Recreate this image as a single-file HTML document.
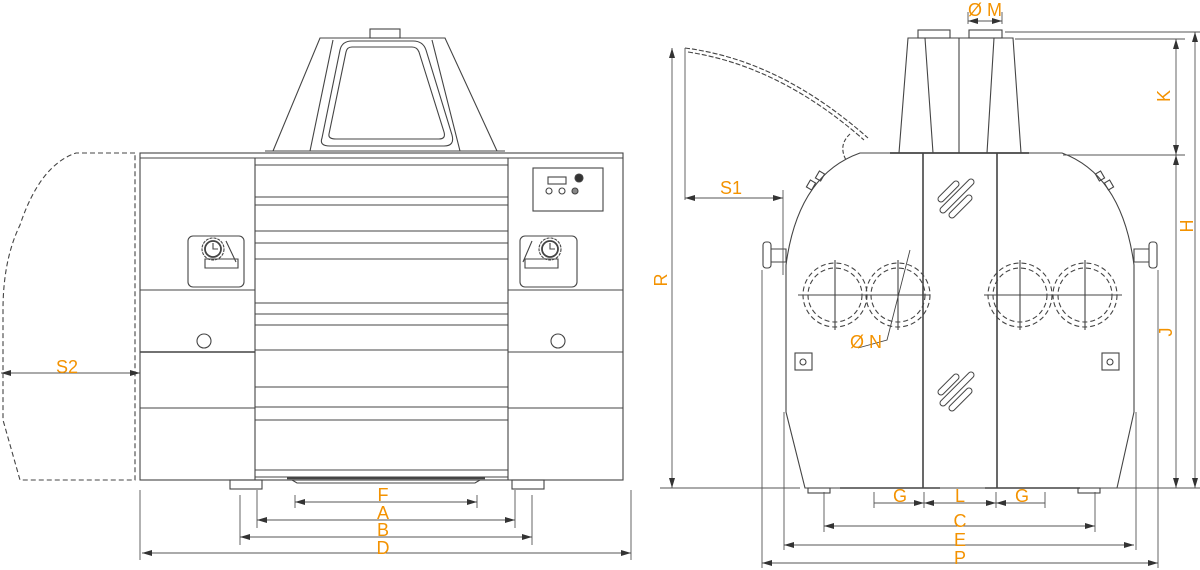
<!DOCTYPE html>
<html><head><meta charset="utf-8"><style>
html,body{margin:0;padding:0;background:#fff}
svg{display:block}
text{font-family:"Liberation Sans",sans-serif;font-size:18px;fill:#F39200}
</style></head><body>
<svg width="1200" height="570" viewBox="0 0 1200 570" xmlns="http://www.w3.org/2000/svg">
<defs>
<marker id="a" viewBox="0 0 10 6" refX="10" refY="3" markerWidth="10" markerHeight="6" orient="auto-start-reverse" markerUnits="userSpaceOnUse"><path d="M0,0L10,3L0,6z" fill="#333"/></marker>
</defs>
<g fill="none" stroke="#444" stroke-width="1.1">
<!-- LEFT VIEW -->
<path d="M273,151 L320,38 L445,38 L497,151"/>
<path d="M310,151 L333,40 M460,151 L432,40"/>
<path d="M322,138 L340,50 Q342,41 352,41 L413,41 Q423,41 426,50 L452,135 Q455,146 444,146 L330,146 Q319,146 322,138 Z"/>
<path d="M329,134 L346,52 Q347,47 352,47 L412,47 Q417,47 419,52 L444,132 Q446,139 439,139 L336,139 Q328,139 329,134 Z"/>
<rect x="370" y="29" width="30" height="9"/>
<path d="M265,151 L505,151"/>
<rect x="140" y="153" width="483" height="327"/>
<path d="M140,158 L623,158"/>
<path d="M255,158 L255,480 M508,158 L508,480"/>
<path d="M140,290 L255,290 M508,290 L623,290 M140,408 L255,408 M508,408 L623,408"/>
<path d="M140,352 L255,352" stroke-width="1.6"/>
<path d="M508,352 L623,352"/>
<path d="M255,165 L508,165 M255,197 L508,197 M255,205 L508,205 M255,231 L508,231 M255,243 L508,243 M255,259 L508,259 M255,303 L508,303 M255,314 L508,314 M255,325 L508,325 M255,350 L508,350 M255,387 L508,387 M255,407 L508,407 M255,420 L508,420 M255,470 L508,470 M255,477 L508,477"/>
<rect x="533" y="168" width="70" height="43"/>
<rect x="548" y="177" width="18" height="7"/>
<circle cx="579" cy="178" r="4" fill="#333"/>
<circle cx="549" cy="191" r="3"/><circle cx="562" cy="191" r="3"/><circle cx="575" cy="191" r="3" fill="#888"/>
<rect x="188" y="236" width="56" height="51" rx="5"/>
<rect x="520" y="236" width="57" height="51" rx="5"/>
<circle cx="213" cy="249" r="11" stroke-dasharray="3 1"/><circle cx="213" cy="249" r="8" stroke-width="1.8"/>
<path d="M213,243 L213,249 L218,249"/>
<path d="M205,259 L238,259 L238,268 L205,268 Z M226,241 L236,262"/>
<circle cx="550" cy="249" r="11" stroke-dasharray="3 1"/><circle cx="550" cy="249" r="8" stroke-width="1.8"/>
<path d="M550,243 L550,249 L555,249"/>
<path d="M525,259 L558,259 L558,268 L525,268 Z M532,241 L523,262"/>
<circle cx="204" cy="341" r="7"/><circle cx="558" cy="341" r="7"/>
<rect x="230" y="480" width="32" height="9"/><rect x="512" y="480" width="32" height="9"/>
<path d="M287,478 L485,478" stroke-width="2.5"/>
<path d="M292,480 L297,483 L475,483 L480,480"/>
<path d="M135,153 L76,153 Q40,165 20,225 Q3,260 3,310 L3,420 L20,480 L135,480 Z" stroke-dasharray="5 3"/>
<g stroke="#555" stroke-width="0.9">
<path d="M140,490 L140,560 M631,490 L631,560 M240,495 L240,545 M532,495 L532,545 M257,490 L257,528 M515,490 L515,528 M295,495 L295,508 M477,495 L477,508"/>
<path d="M295,502 L477,502" marker-start="url(#a)" marker-end="url(#a)"/>
<path d="M257,520 L515,520" marker-start="url(#a)" marker-end="url(#a)"/>
<path d="M240,537 L532,537" marker-start="url(#a)" marker-end="url(#a)"/>
<path d="M142,553 L631,553" marker-start="url(#a)" marker-end="url(#a)"/>
<path d="M1,373 L140,373" marker-start="url(#a)" marker-end="url(#a)"/>
</g>
<!-- RIGHT VIEW -->
<path d="M908,38 L1013,38 L1021,153 L899,153 Z"/>
<path d="M925,38 L933,153 M959,38 L959,153 M994,38 L987,153"/>
<rect x="918" y="30" width="32" height="8"/><rect x="969" y="30" width="33" height="8"/>
<path d="M890,153 L1029,153" stroke-width="1.8"/>
<path d="M860,153 L1062,153 Q1122,175 1134,265 L1134,412 L1117,488 L805,488 L786,412 L786,265 Q798,175 860,153 Z"/>
<path d="M923,153 L923,488 M997,153 L997,488" stroke-width="1.6"/>
<path d="M840,488 L940,488 M985,488 L1080,488" stroke-width="1.6"/>
<rect x="808" y="488" width="22" height="5"/><rect x="1078" y="488" width="22" height="5"/>
<g stroke-dasharray="5 3">
<circle cx="835" cy="295" r="32"/><circle cx="835" cy="295" r="27"/>
<circle cx="898" cy="295" r="32"/><circle cx="898" cy="295" r="27"/>
<circle cx="1020" cy="295" r="32"/><circle cx="1020" cy="295" r="27"/>
<circle cx="1085" cy="295" r="32"/><circle cx="1085" cy="295" r="27"/>
</g>
<path d="M798,295 L930,295 M984,295 L1122,295 M835,260 L835,330 M898,260 L898,330 M1020,260 L1020,330 M1085,260 L1085,330"/>
<path d="M910,250 L887,340 L858,348" stroke-width="0.9"/>
</g>
<!-- hatch bars -->
<g stroke-linecap="round">
<g stroke="#444" stroke-width="7">
<path d="M941,199 L956,184 M943,210 L971,182 M952,215 L969,198"/>
<path d="M941,392 L956,377 M943,403 L971,375 M952,408 L969,391"/>
</g>
<g stroke="#fff" stroke-width="5">
<path d="M941,199 L956,184 M943,210 L971,182 M952,215 L969,198"/>
<path d="M941,392 L956,377 M943,403 L971,375 M952,408 L969,391"/>
</g>
</g>
<g fill="none" stroke="#444" stroke-width="1.1">
<rect x="795" y="353" width="17" height="17"/><circle cx="803" cy="362" r="3"/>
<rect x="1102" y="353" width="17" height="17"/><circle cx="1110" cy="362" r="3"/>
<rect x="763" y="242" width="8" height="26" rx="3"/><path d="M771,249 L786,249 L786,262 L771,262"/>
<rect x="1149" y="242" width="8" height="26" rx="3"/><path d="M1149,249 L1134,249 L1134,262 L1149,262"/>
<rect x="808" y="181" width="6" height="8" transform="rotate(30 811 185)"/><rect x="817" y="172" width="6" height="8" transform="rotate(30 820 176)"/>
<rect x="1097" y="172" width="6" height="8" transform="rotate(-30 1100 176)"/><rect x="1106" y="181" width="6" height="8" transform="rotate(-30 1109 185)"/>
<path d="M685,48 Q780,60 868,138" stroke-dasharray="5 2"/>
<path d="M688,52 Q780,66 864,140" stroke-dasharray="5 2"/>
<path d="M850,134 Q838,145 846,160" stroke-dasharray="4 2"/>
<g stroke="#555" stroke-width="0.9">
<path d="M660,488 L800,488 M1117,488 L1200,488 M1005,32 L1200,32 M1015,39 L1185,39 M1063,155 L1185,155 M685,48 L685,200"/>
<path d="M672,48 L672,488" marker-start="url(#a)" marker-end="url(#a)"/>
<path d="M685,198 L783,198" marker-start="url(#a)" marker-end="url(#a)"/>
<path d="M783,190 L783,275"/>
<path d="M1176,39 L1176,155" marker-start="url(#a)" marker-end="url(#a)"/>
<path d="M1176,155 L1176,488" marker-start="url(#a)" marker-end="url(#a)"/>
<path d="M1195,32 L1195,488" marker-start="url(#a)" marker-end="url(#a)"/>
<path d="M968,12 L968,24 M1002,12 L1002,24"/>
<path d="M968,21 L1002,21" marker-start="url(#a)" marker-end="url(#a)"/>
<path d="M762,270 L762,568 M1158,270 L1158,568 M784,412 L784,550 M1136,412 L1136,550 M824,492 L824,532 M1095,492 L1095,532 M874,492 L874,508 M924,492 L924,508 M996,492 L996,508 M1045,492 L1045,508"/>
<path d="M874,503 L924,503" marker-end="url(#a)"/>
<path d="M924,503 L996,503" marker-start="url(#a)" marker-end="url(#a)"/>
<path d="M996,503 L1045,503" marker-start="url(#a)"/>
<path d="M824,526 L1095,526" marker-start="url(#a)" marker-end="url(#a)"/>
<path d="M784,545 L1134,545" marker-start="url(#a)" marker-end="url(#a)"/>
<path d="M762,563 L1158,563" marker-start="url(#a)" marker-end="url(#a)"/>
</g>
</g>
<text x="383" y="501" text-anchor="middle">F</text>
<text x="383" y="519" text-anchor="middle">A</text>
<text x="383" y="536" text-anchor="middle">B</text>
<text x="383" y="554" text-anchor="middle">D</text>
<text x="67" y="373" text-anchor="middle">S2</text>
<text x="985" y="16" text-anchor="middle">Ø M</text>
<text x="731" y="194" text-anchor="middle">S1</text>
<text x="866" y="348" text-anchor="middle">Ø N</text>
<text x="900" y="502" text-anchor="middle">G</text>
<text x="960" y="502" text-anchor="middle">L</text>
<text x="1022" y="502" text-anchor="middle">G</text>
<text x="960" y="527" text-anchor="middle">C</text>
<text x="960" y="546" text-anchor="middle">E</text>
<text x="960" y="564" text-anchor="middle">P</text>
<text transform="translate(667,280) rotate(-90)" text-anchor="middle">R</text>
<text transform="translate(1170,96) rotate(-90)" text-anchor="middle">K</text>
<text transform="translate(1193,226) rotate(-90)" text-anchor="middle">H</text>
<text transform="translate(1172,332) rotate(-90)" text-anchor="middle">J</text>
</svg>
</body></html>
